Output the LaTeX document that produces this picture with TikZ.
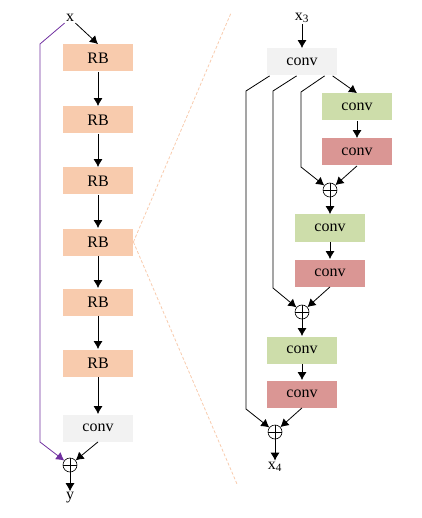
\documentclass[tikz,border=0pt]{standalone}
\usepackage{fontspec}
\setmainfont{Liberation Serif}
\usetikzlibrary{arrows.meta}
\definecolor{rbfill}{RGB}{248,203,173}
\definecolor{convgray}{RGB}{242,242,242}
\definecolor{convgreen}{RGB}{205,221,170}
\definecolor{convred}{RGB}{218,150,148}
\definecolor{skippurple}{RGB}{112,48,160}

\begin{document}
\begin{tikzpicture}[x=1pt,y=-1pt,line width=0.8pt,font=\fontsize{16}{18}\selectfont]
\tikzstyle{blk}=[minimum width=70pt,minimum height=27pt,inner sep=0pt];
\tikzstyle{rb}=[blk,fill=rbfill];
\tikzstyle{cv}=[blk,fill=convgray];
\tikzstyle{cg}=[blk,fill=convgreen];
\tikzstyle{cr}=[blk,fill=convred];
\tikzstyle{sum}=[circle,draw,line width=0.6pt,minimum size=14pt,inner sep=0pt,
  path picture={\draw[line width=0.6pt] (path picture bounding box.north) -- (path picture bounding box.south)
    (path picture bounding box.west) -- (path picture bounding box.east);}];
\tikzstyle{lbl}=[inner sep=1pt];
\tikzstyle{dir}=[-{Latex[length=8pt,width=9pt]}];
\tikzstyle{zoom}=[rbfill,dash pattern=on 3pt off 2pt];

\useasboundingbox (0,0) rectangle (421,518);

% left: chain of RB blocks
\node [lbl] (x) at (70,18) {x};
\foreach \i/\y in {1/58,2/120,3/181,4/242,5/302,6/363}
  \node [rb] (rb\i) at (98,\y) {RB};
\node [cv] (conv) at (98,428) {conv};
\node [sum] (s0) at (70,465) {};
\node [lbl] (y) at (70,498) {y};

\draw [dir] (x.south east) -- (rb1.north);
\foreach \i [count=\j from 2] in {1,...,5}
  \draw [dir] (rb\i) -- (rb\j);
\draw [dir] (rb6) -- (conv);
\draw [dir] (conv.south) -- (s0);
\draw [dir,skippurple] (x.south west) -- (40,44) -- (40,442) -- (s0);
\draw [dir] (s0) -- (y);

% zoom lines
\coordinate (zt) at (231,13);
\coordinate (zb) at (237,484);
\draw [zoom] (rb4.east) -- (zt);
\draw [zoom] (rb4.east) -- (zb);

% right: inside of an RB
\node [lbl] (x3) at (302,18) {x\textsubscript{3}};
\node [cv] (top) at (302,62) {conv};
\node [cg] (g1) at (357,107) {conv};
\node [cr] (r1) at (357,152) {conv};
\node [sum] (s1) at (330,190) {};
\node [cg] (g2) at (330,228) {conv};
\node [cr] (r2) at (330,273) {conv};
\node [sum] (s2) at (302,312) {};
\node [cg] (g3) at (302,350) {conv};
\node [cr] (r3) at (302,394) {conv};
\node [sum] (s3) at (275,432) {};
\node [lbl] (x4) at (275,467) {x\textsubscript{4}};

\draw [dir] (x3) -- (top);
\draw [dir] ([xshift=3pt]top.south west) -- (246,91) -- (246,409) -- (s3);
\draw [dir] ([xshift=30pt]top.south west) -- (273,91) -- (273,288) -- (s2);
\draw [dir] ([xshift=58pt]top.south west) -- (301,92) -- (301,167) -- (s1);
\draw [dir] ([xshift=66pt]top.south west) -- (g1.north);
\draw [dir] (g1) -- (r1);
\draw [dir] (r1.south) -- (s1);
\draw [dir] (s1) -- (g2);
\draw [dir] (g2) -- (r2);
\draw [dir] (r2.south) -- (s2);
\draw [dir] (s2) -- (g3);
\draw [dir] (g3) -- (r3);
\draw [dir] (r3.south) -- (s3);
\draw [dir] (s3) -- (x4);
\end{tikzpicture}
\end{document}
